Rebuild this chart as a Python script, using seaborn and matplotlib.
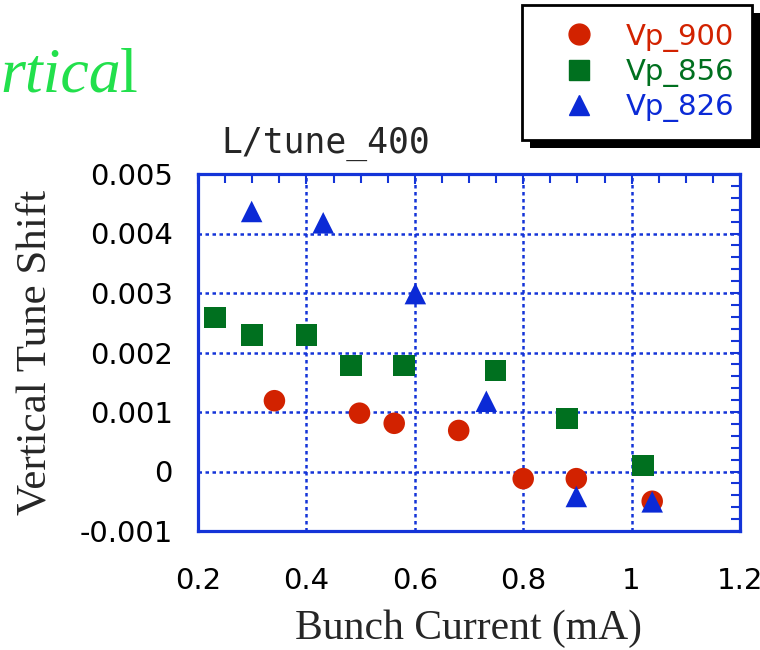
import numpy as np
import pandas as pd
import seaborn as sns
import matplotlib
matplotlib.use('Agg')
from matplotlib import pyplot as plt
from matplotlib.lines import Line2D
from matplotlib.patches import Rectangle
from matplotlib.transforms import IdentityTransform
from matplotlib.ticker import MultipleLocator

# values
series_names = ['Vp_900', 'Vp_856', 'Vp_826']

vp900_current = [0.341, 0.498, 0.562, 0.681, 0.800, 0.898, 1.038]
vp900_shift = [0.00119, 0.00098, 0.00081, 0.00069, -0.00012, -0.00012, -0.00050]

vp856_current = [0.231, 0.300, 0.400, 0.482, 0.580, 0.749, 0.881, 1.021]
vp856_shift = [0.00259, 0.00229, 0.00229, 0.00178, 0.00178, 0.00170, 0.00089, 0.00010]

vp826_current = [0.299, 0.431, 0.601, 0.732, 0.898, 1.038]
vp826_shift = [0.00437, 0.00418, 0.00299, 0.00118, -0.00042, -0.00051]

x_ticks = [0.2, 0.4, 0.6, 0.8, 1.0, 1.2]
x_tick_labels = ['0.2', '0.4', '0.6', '0.8', '1', '1.2']
y_ticks = [-0.001, 0.0, 0.001, 0.002, 0.003, 0.004, 0.005]
y_tick_labels = ['-0.001', '0', '0.001', '0.002', '0.003', '0.004', '0.005']

colors = {'Vp_900': '#d22200', 'Vp_856': '#00701f', 'Vp_826': '#0b2ad6'}
markers = {'Vp_900': 'o', 'Vp_856': 's', 'Vp_826': '^'}
axis_blue = '#1434d8'

#%% build long dataframe
df = pd.concat([
    pd.DataFrame({'current': vp900_current, 'shift': vp900_shift, 'series': 'Vp_900'}),
    pd.DataFrame({'current': vp856_current, 'shift': vp856_shift, 'series': 'Vp_856'}),
    pd.DataFrame({'current': vp826_current, 'shift': vp826_shift, 'series': 'Vp_826'}),
], ignore_index=True)

#%% plot
sns.set_style('white')
W, H = 760, 650
fig = plt.figure(figsize=(W / 100, H / 100), dpi=100)
ax = fig.add_axes([198 / W, 1 - 531 / H, 542 / W, 357 / H])

sns.scatterplot(data=df, x='current', y='shift', hue='series', style='series',
                palette=colors, markers=markers, s=240, linewidth=0,
                legend=False, ax=ax, zorder=3)

ax.set_xlim(0.2, 1.2)
ax.set_ylim(-0.001, 0.005)
ax.set_xticks(x_ticks, labels=x_tick_labels)
ax.set_yticks(y_ticks, labels=y_tick_labels)
ax.xaxis.set_minor_locator(MultipleLocator(0.05))
ax.yaxis.set_minor_locator(MultipleLocator(0.0002))
ax.tick_params(which='both', direction='in', top=True, right=True,
               color=axis_blue, width=1.5, labelsize=21, labelcolor='black')
ax.tick_params(which='major', length=7.5)
ax.tick_params(which='minor', length=6.5)
ax.tick_params(axis='y', which='major', pad=18)
ax.tick_params(axis='x', which='major', pad=26)
for lab in ax.get_xticklabels() + ax.get_yticklabels():
    lab.set_family('DejaVu Sans')

ax.grid(True, which='major', color=axis_blue, linestyle=(0, (1.4, 1.4)), linewidth=1.8)
for sp in ax.spines.values():
    sp.set_color(axis_blue)
    sp.set_linewidth(2.3)

ax.set_xlabel('Bunch Current (mA)', family='Liberation Serif', fontsize=30, labelpad=10)
ax.set_ylabel('Vertical Tune Shift', family='Liberation Serif', fontsize=31, labelpad=18)

# panel title and the cut-off heading
fig.text(326 / W, 1 - 153 / H, 'L/tune_400', family='DejaVu Sans Mono', fontsize=25,
         ha='center', va='baseline')
fig.text(0 / W, 1 - 92 / H, 'rtica', family='Liberation Serif', style='italic',
         fontsize=46, color='#22e04c', ha='left', va='baseline')
fig.text(120 / W, 1 - 92 / H, 'l', family='Liberation Serif',
         fontsize=46, color='#22e04c', ha='left', va='baseline')

#%% legend with a hard black shadow
handles = [Line2D([], [], linestyle='none', marker=markers[n], color=colors[n],
                  markersize=15) for n in series_names]
leg = fig.legend(handles, series_names, loc='upper left',
                 bbox_to_anchor=(522 / W, 1 - 5 / H), frameon=True, fancybox=False,
                 edgecolor='black', framealpha=1, borderpad=0.6, labelspacing=0.22,
                 handlelength=2.7, handletextpad=0.25, borderaxespad=0,
                 prop={'family': 'DejaVu Sans', 'size': 21},
                 labelcolor='markerfacecolor')
leg.get_frame().set_linewidth(2)
leg.set_zorder(6)

fig.canvas.draw()
bb = leg.get_window_extent()
shadow = Rectangle((bb.x0 + 8, bb.y0 - 8), bb.width, bb.height, transform=IdentityTransform(),
                   facecolor='black', edgecolor='none', zorder=5)
fig.add_artist(shadow)

plt.savefig('out.png', dpi=100)
